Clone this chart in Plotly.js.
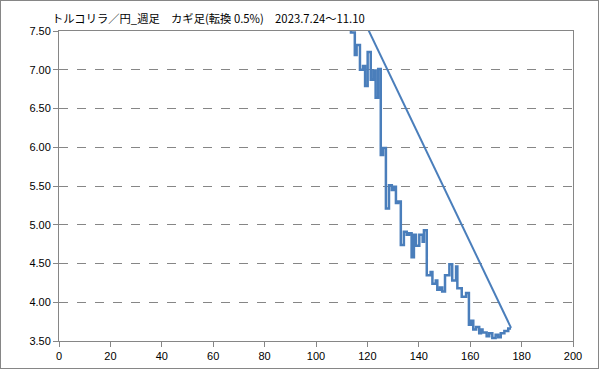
<!DOCTYPE html>
<html>
<head>
<meta charset="utf-8">
<script src="https://cdn.plot.ly/plotly-3.0.1.min.js"></script>
<style>
html,body{margin:0;padding:0;background:#fff;}
#chart{width:597px;height:367px;border:1px solid #868686;}
</style>
</head>
<body>
<div id="chart"></div>
<script>
// Kagi line (step) positions and levels
var kagiX = [112.5, 113.6, 115.1, 115.8, 117.1, 118.3, 119.1, 120.1, 121.3, 122.3, 123.2, 124.2, 125.2, 126.1, 127.2, 128.4, 129.5, 130.4, 131.1, 132.0, 133.0, 134.2, 135.3, 136.2, 137.2, 138.1, 138.9, 140.2, 141.5, 142.0, 143.1, 144.6, 145.3, 146.6, 147.2, 148.2, 149.1, 150.2, 151.9, 153.0, 154.5, 155.0, 156.7, 158.4, 159.5, 160.3, 161.2, 162.3, 163.5, 164.2, 164.8, 166.4, 167.4, 168.6, 169.9, 170.9, 171.9, 173.3, 174.8, 175.9];
var kagiY = [7.70, 7.48, 7.19, 7.32, 7.00, 7.05, 6.79, 7.23, 6.87, 6.99, 6.64, 7.01, 5.90, 5.99, 5.21, 5.51, 5.45, 5.49, 5.28, 5.30, 4.74, 4.91, 4.87, 4.89, 4.58, 4.87, 4.73, 4.87, 4.78, 4.93, 4.35, 4.39, 4.24, 4.28, 4.16, 4.19, 4.14, 4.35, 4.49, 4.28, 4.46, 4.18, 4.07, 4.12, 3.71, 3.76, 3.65, 3.68, 3.60, 3.65, 3.61, 3.56, 3.60, 3.54, 3.58, 3.55, 3.60, 3.63, 3.66, 3.66];
// Trend line end points
var trendX = [120.0, 175.9];
var trendY = [7.54, 3.67];
var titleText = "トルコリラ／円_週足　カギ足(転換 0.5%)　2023.7.24～11.10";

var blue = "#4A7EBB";
var data = [
  {x: kagiX, y: kagiY, type: "scatter", mode: "lines",
   line: {color: blue, width: 2.5, shape: "hv"}, hoverinfo: "none"},
  {x: trendX, y: trendY, type: "scatter", mode: "lines",
   line: {color: blue, width: 2}, hoverinfo: "none"}
];
var axisFont = {family: "Liberation Sans, Arial, sans-serif", size: 11, color: "#000"};
var layout = {
  width: 597, height: 367,
  margin: {l: 58, r: 25, t: 30, b: 27, pad: 0},
  paper_bgcolor: "#fff", plot_bgcolor: "#fff",
  showlegend: false,
  title: {text: titleText, xref: "container", yref: "container",
          x: 51/597, xanchor: "left", y: 1 - 18/367, yanchor: "middle",
          font: {family: "Noto Sans CJK JP, sans-serif", size: 11.3, color: "#000"}},
  xaxis: {range: [0, 200], dtick: 20, tick0: 0, showgrid: false, zeroline: false,
          showline: true, linecolor: "#868686", linewidth: 1, mirror: true,
          ticks: "outside", ticklen: 5, tickcolor: "#868686",
          tickfont: axisFont, fixedrange: true},
  yaxis: {range: [3.5, 7.5], dtick: 0.5, tick0: 3.5, tickformat: ".2f",
          showgrid: true, gridcolor: "#868686", griddash: "dash", gridwidth: 1,
          zeroline: false, showline: true, linecolor: "#868686", linewidth: 1, mirror: true,
          ticks: "outside", ticklen: 5, tickcolor: "#868686",
          tickfont: axisFont, fixedrange: true}
};
Plotly.newPlot("chart", data, layout, {staticPlot: true, displayModeBar: false});
</script>
</body>
</html>
